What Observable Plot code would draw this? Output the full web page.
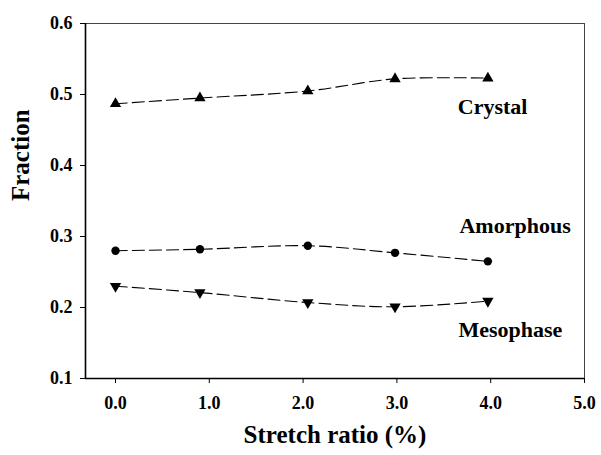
<!DOCTYPE html>
<html>
<head>
<meta charset="utf-8">
<script src="https://cdn.jsdelivr.net/npm/d3@7"></script>
<script src="https://cdn.jsdelivr.net/npm/@observablehq/plot@0.6"></script>
<style>
  html, body { margin: 0; padding: 0; background: #fff; }
  svg { font-family: "Liberation Serif", "Times New Roman", serif; }
</style>
</head>
<body>
<div id="chart"></div>
<script>
const stretch = [0.0, 0.9, 2.05, 2.98, 3.97];
const crystal = [0.487, 0.495, 0.505, 0.522, 0.523];
const amorphous = [0.280, 0.282, 0.287, 0.277, 0.265];
const mesophase = [0.230, 0.221, 0.207, 0.201, 0.209];
const seriesNames = ["Crystal", "Amorphous", "Mesophase"];
const xTicks = [0, 1, 2, 3, 4, 5];
const yTicks = [0.1, 0.2, 0.3, 0.4, 0.5, 0.6];
const labelX = [4.02, 4.26, 4.21];
const labelY = [0.483, 0.315, 0.168];

const values = [crystal, amorphous, mesophase];
const symbols = ["triangle", "circle", "triangle"];
const rotations = [0, 0, 180];
const rows = [];
seriesNames.forEach((s, i) => stretch.forEach((x, j) => rows.push({series: s, x, y: values[i][j], sym: symbols[i], rot: rotations[i]})));
const labels = seriesNames.map((s, i) => ({s, x: labelX[i], y: labelY[i]}));

const plot = Plot.plot({
  width: 601,
  height: 455,
  marginLeft: 85,
  marginRight: 17,
  marginTop: 23,
  marginBottom: 77,
  style: {fontFamily: "'Liberation Serif', 'Times New Roman', serif", background: "#fff", color: "#000"},
  x: {domain: [-0.32, 5], ticks: xTicks, tickFormat: d3.format(".1f"), label: null},
  y: {domain: [0.1, 0.6], ticks: yTicks, tickFormat: d3.format(".1f"), label: null},
  symbol: {domain: ["triangle", "circle"], range: ["triangle", "circle"]},
  marks: [
    Plot.ruleY([0.6], {stroke: "#444", strokeWidth: 1}),
    Plot.ruleX([5], {stroke: "#444", strokeWidth: 1}),
    Plot.ruleX([-0.32], {stroke: "#000", strokeWidth: 1.6}),
    Plot.ruleY([0.1], {stroke: "#000", strokeWidth: 1.6}),
    Plot.axisX({ticks: xTicks, tickFormat: d3.format(".1f"), tickSize: 5, tickPadding: 13, fontSize: 18, fontWeight: "bold", label: null, stroke: "#000"}),
    Plot.axisY({ticks: yTicks, tickFormat: d3.format(".1f"), tickSize: 5, tickPadding: 8, fontSize: 18, fontWeight: "bold", label: null, stroke: "#000"}),
    Plot.line(rows, {x: "x", y: "y", z: "series", curve: "catmull-rom", stroke: "#000", strokeWidth: 1.1, strokeDasharray: "12,5"}),
    Plot.dot(rows, {x: "x", y: "y", symbol: "sym", rotate: "rot", r: 4.2, fill: "#000", stroke: "none"}),
    Plot.text(labels, {x: "x", y: "y", text: "s", fontSize: 22, fontWeight: "bold", fill: "#000"}),
    Plot.text(["Fraction"], {frameAnchor: "left", dx: -65, rotate: -90, fontSize: 25, fontWeight: "bold", fill: "#000"}),
    Plot.text(["Stretch ratio (%)"], {frameAnchor: "bottom", dy: 64, fontSize: 25, fontWeight: "bold", fill: "#000"})
  ]
});
document.getElementById("chart").appendChild(plot);
</script>
</body>
</html>
